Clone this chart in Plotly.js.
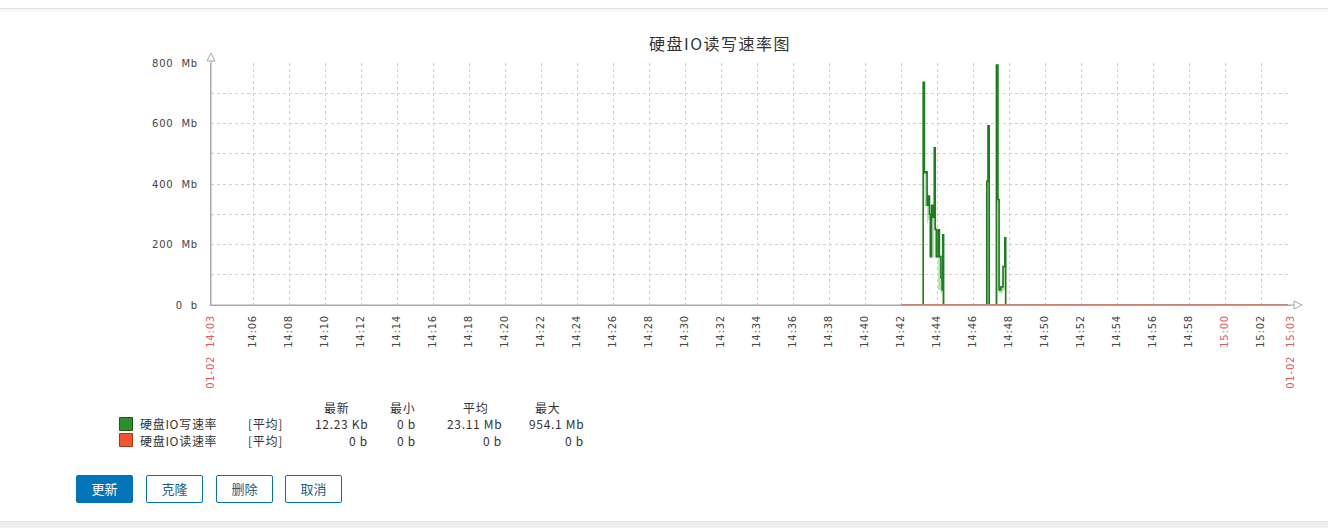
<!DOCTYPE html>
<html>
<head>
<meta charset="utf-8">
<script src="https://cdn.plot.ly/plotly-3.0.1.min.js"></script>
<style>
  html, body { margin:0; padding:0; background:#ffffff; width:1328px; height:528px; overflow:hidden; }
  #topline { position:absolute; left:0; top:8px; width:1328px; height:1px; background:#e2e2e2; }
  #topshadow { position:absolute; left:0; top:9px; width:1328px; height:5px; background:linear-gradient(#f4f4f4,#ffffff); }
  #bottom { position:absolute; left:0; top:521px; width:1328px; height:7px; background:#ebeef0; border-top:1px solid #dfe4e7; }
  #chart { position:absolute; left:0; top:0; width:1328px; height:520px; }
  .btn { position:absolute; top:475px; width:57px; height:28px; box-sizing:border-box; border-radius:2px;
         font-family:"Noto Sans CJK SC","Noto Sans",sans-serif; font-size:13px; line-height:26px; text-align:center;
         border:1px solid #0275b8; background:#ffffff; color:#1f5c8a; }
  .btn.primary { background:#0275b8; color:#ffffff; }
  .xtick text, .ytick text { letter-spacing:0.8px; }
  .annotation-text { letter-spacing:0.7px; }
  .gtitle { letter-spacing:1.5px; }
</style>
</head>
<body>
<div id="topline"></div>
<div id="topshadow"></div>
<div id="chart"></div>
<div class="btn primary" style="left:76px;">更新</div>
<div class="btn" style="left:146px;">克隆</div>
<div class="btn" style="left:216px;">删除</div>
<div class="btn" style="left:285px;">取消</div>
<div id="bottom"></div>
<script>
// ---------- data ----------
const day = '2024-01-02 ';
const titleText = '硬盘IO读写速率图';

const writeTimes = ['14:42:00','14:43:14','14:43:18','14:43:23','14:43:27','14:43:30','14:43:35','14:43:38','14:43:42','14:43:47',
  '14:43:51','14:43:54','14:43:58','14:44:04','14:44:08','14:44:13','14:44:17','14:44:19','14:44:22',
  '14:46:46','14:46:50','14:46:54','14:47:18','14:47:23','14:47:27','14:47:33','14:47:40','14:47:46','14:47:49','15:03:30'];
const writeMb = [0,736,437,440,330,360,300,160,330,290,520,250,160,249,160,90,50,232,0,409,592,0,793,349,50,60,127,222,0,0];
const writeMinMb = [0,437,326,330,271,282,160,156,282,156,249,156,156,50,50,40,0,0,0,0,0,0,0,50,40,40,50,0,0,0];

const readTimes = ['14:42:00','15:03:30'];
const readMb = [0,0];

const rangeStart = '14:03:40';
const rangeEnd = '15:03:40';

const tickTimes = ['14:03:40','14:06','14:08','14:10','14:12','14:14','14:16','14:18','14:20','14:22','14:24','14:26','14:28',
  '14:30','14:32','14:34','14:36','14:38','14:40','14:42','14:44','14:46','14:48','14:50','14:52','14:54','14:56','14:58',
  '15:00','15:02','15:03:40'];
const tickLabels = ['01-02  14:03','14:06','14:08','14:10','14:12','14:14','14:16','14:18','14:20','14:22','14:24','14:26','14:28',
  '14:30','14:32','14:34','14:36','14:38','14:40','14:42','14:44','14:46','14:48','14:50','14:52','14:54','14:56','14:58',
  '15:00','15:02','01-02  15:03'];
const redTickLabels = ['01-02  14:03','15:00','01-02  15:03'];

const yTickVals = [0,200,400,600,800];
const yTickLabels = ['0  b','200  Mb','400  Mb','600  Mb','800  Mb'];

const legendNames = ['硬盘IO写速率','硬盘IO读速率'];
const legendAgg = ['[平均]','[平均]'];
const legendHeaders = ['最新','最小','平均','最大'];
const lastVals = ['12.23 Kb','0 b'];
const minVals = ['0 b','0 b'];
const avgVals = ['23.11 Mb','0 b'];
const maxVals = ['954.1 Mb','0 b'];

const writeColor = '#1e7d1e';
const bandColor = '#b3e0ad';
const readColor = '#ee5a36';

// ---------- layout helpers ----------
const PL = 211, PR = 1291, PT = 63, PB = 305, W = 1328, H = 520;
const px = X => (X - PL) / (PR - PL);
const py = Y => (PB - Y) / (PB - PT);
const nb = s => s.replace(/ /g, '\u00a0');

const tx = a => a.map(t => day + (t.length === 5 ? t + ':00' : t));

const traces = [
  { x: tx(writeTimes), y: writeMinMb, type:'scatter', mode:'lines', line:{shape:'hv', width:0, color:bandColor},
    hoverinfo:'skip', showlegend:false },
  { x: tx(writeTimes), y: writeMb, type:'scatter', mode:'lines', line:{shape:'hv', width:1, color:bandColor},
    fill:'tonexty', fillcolor:bandColor, hoverinfo:'skip', showlegend:false },
  { x: tx(writeTimes), y: writeMb, type:'scatter', mode:'lines', name:legendNames[0],
    line:{shape:'hv', width:1.6, color:writeColor}, showlegend:false },
  { x: tx(readTimes), y: readMb, type:'scatter', mode:'lines', name:legendNames[1],
    line:{shape:'hv', width:2, color:readColor}, showlegend:false }
];

const ticktext = tickLabels.map(l => {
  const t = nb(l);
  if (redTickLabels.includes(l)) {
    return '<span style="fill:#e15a5a;color:#e15a5a">' + t + '</span>';
  }
  return t;
});

const axisColor = '#a8a8a8';
const shapes = [
  { type:'line', xref:'paper', yref:'paper', x0:0, x1:0, y0:0, y1:py(60), line:{color:axisColor, width:1} },
  { type:'path', xref:'paper', yref:'paper',
    path:`M ${px(211)} ${py(53)} L ${px(207)} ${py(61)} L ${px(215)} ${py(61)} Z`,
    line:{color:axisColor, width:1}, fillcolor:'#ffffff' },
  { type:'line', xref:'paper', yref:'paper', x0:0, x1:px(1295), y0:0, y1:0, line:{color:axisColor, width:1} },
  { type:'path', xref:'paper', yref:'paper',
    path:`M ${px(1302)} ${py(305)} L ${px(1294)} ${py(301)} L ${px(1294)} ${py(309)} Z`,
    line:{color:axisColor, width:1}, fillcolor:'#ffffff' },
  { type:'rect', xref:'paper', yref:'paper', x0:px(119.5), x1:px(132.5), y0:py(430.5), y1:py(417.5),
    fillcolor:'#2f8f2f', line:{color:'#1d5a1d', width:1} },
  { type:'rect', xref:'paper', yref:'paper', x0:px(119.5), x1:px(132.5), y0:py(446.5), y1:py(433.5),
    fillcolor:'#f2542d', line:{color:'#a8391e', width:1} }
];

const cjk = '"Noto Sans CJK SC", "DejaVu Sans", sans-serif';
const lf = { family: cjk, size: 12, color: '#333333' };
const annotations = [];
const addText = (text, X, Y, anchor) => annotations.push({
  text: nb(text), xref:'paper', yref:'paper', x:px(X), y:py(Y), xanchor:anchor, yanchor:'middle',
  showarrow:false, font:lf, borderpad:0
});
const headerX = [336, 402, 475, 547];
legendHeaders.forEach((h, i) => addText(h, headerX[i], 407, 'center'));
const rowY = [423.5, 440];
const valRight = [369, 417, 503, 585];
legendNames.forEach((n, r) => {
  addText(n, 139, rowY[r], 'left');
  addText(legendAgg[r], 247, rowY[r], 'left');
  [lastVals, minVals, avgVals, maxVals].forEach((arr, c) => addText(arr[r], valRight[c], rowY[r], 'right'));
});

const gridColor = '#d0d0d0';
const layout = {
  width: W, height: H,
  margin: { l: PL, r: W - PR, t: PT, b: H - PB, pad: 0 },
  paper_bgcolor: 'rgba(0,0,0,0)', plot_bgcolor: 'rgba(0,0,0,0)',
  showlegend: false,
  title: { text: titleText, font: { family: cjk, size: 16, color: '#333333' },
           x: 720 / W, xref:'container', xanchor:'center', y: 1 - 44 / H, yref:'container', yanchor:'middle' },
  xaxis: {
    type: 'date', range: [day + rangeStart, day + rangeEnd],
    tickmode: 'array', tickvals: tx(tickTimes), ticktext: ticktext, tickangle: -90,
    tickfont: { family: '"DejaVu Sans", sans-serif', size: 10, color: '#444444' },
    ticks: '', ticklabelstandoff: 5,
    showgrid: true, gridcolor: gridColor, griddash: 'dot', gridwidth: 1,
    showline: true, linecolor: axisColor, linewidth: 1, zeroline: false, fixedrange: true
  },
  yaxis: {
    range: [0, 800], tickmode:'array', tickvals: yTickVals, ticktext: yTickLabels.map(nb),
    tickfont: { family: '"DejaVu Sans", sans-serif', size: 10, color: '#444444' },
    ticks: '', ticklabelstandoff: 10,
    showgrid: true, gridcolor: gridColor, griddash: 'dot', gridwidth: 1,
    minor: { tickmode:'linear', tick0: 0, dtick: 100, showgrid: true, gridcolor: gridColor, griddash: 'dot', gridwidth: 1 },
    showline: true, linecolor: axisColor, linewidth: 1, zeroline: false, fixedrange: true
  },
  shapes: shapes,
  annotations: annotations
};

Plotly.newPlot('chart', traces, layout, { displayModeBar: false, staticPlot: true });
</script>
</body>
</html>
